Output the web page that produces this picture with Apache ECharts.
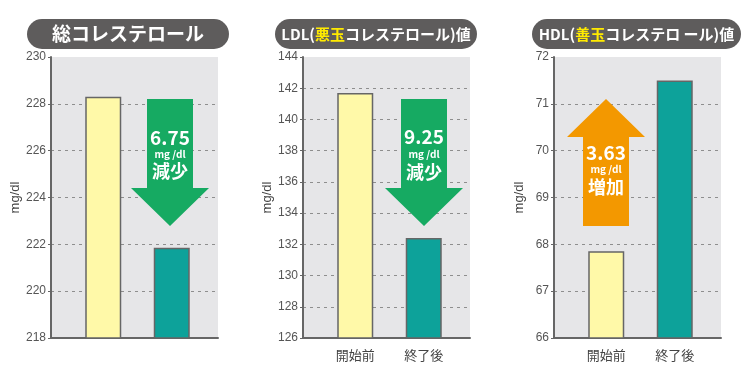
<!DOCTYPE html>
<html>
<head>
<meta charset="utf-8">
<script src="https://cdn.jsdelivr.net/npm/echarts@6/dist/echarts.min.js"></script>
<style>
html,body{margin:0;padding:0;background:#fff;}
#c{width:750px;height:380px;}
</style>
</head>
<body>
<div id="c"></div>
<script>
// ---- data ----
const categories = ['開始前', '終了後'];
const totalChol = [228.3, 221.85];
const ldlChol = [141.7, 132.4];
const hdlChol = [67.85, 71.5];
const axisMin = [218, 126, 66];
const axisMax = [230, 144, 72];
const axisStep = [2, 2, 1];
const changeValues = ['6.75', '9.25', '3.63'];
const changeWords = ['減少', '減少', '増加'];
const unitLabel = 'mg/dl';
const titles = ['総コレステロール', 'LDL({y|悪玉}コレステロール)値', 'HDL({y|善玉}コレステロ ール)値'];
const showCatLabels = [false, true, true];

const seriesValues = [totalChol, ldlChol, hdlChol];
const barColors = ['#FFF9A8', '#0DA29A'];
const FONT = '"Noto Sans CJK JP", "Noto Sans", sans-serif';
const gridLefts = [51, 303, 554];
const GW = 167, GTOP = 57, GH = 281;

const grid = [], xAxis = [], yAxis = [], series = [];
for (let i = 0; i < 3; i++) {
  const L = gridLefts[i];
  grid.push({left: L, top: GTOP, width: GW, height: GH, show: true, backgroundColor: '#E6E6E8', borderWidth: 0, containLabel: false, outerBoundsMode: 'none'});
  grid.push({left: L + 18, top: GTOP, width: 137, height: GH, containLabel: false, outerBoundsMode: 'none'});
  const nTicks = Math.round((axisMax[i] - axisMin[i]) / axisStep[i]) + 1;
  const splitColors = [];
  for (let k = 0; k < nTicks; k++) splitColors.push(k === 0 || k === nTicks - 1 ? 'rgba(0,0,0,0)' : '#8E8E8E');
  xAxis.push({type: 'value', gridIndex: 2 * i, min: 0, max: 1,
    axisLine: {show: true, onZero: false, lineStyle: {color: '#666', width: 2}},
    axisTick: {show: false}, axisLabel: {show: false}, splitLine: {show: false}});
  xAxis.push({type: 'category', gridIndex: 2 * i + 1, data: categories,
    axisLine: {show: false}, axisTick: {show: false},
    axisLabel: {show: showCatLabels[i], margin: 11, color: '#444', fontSize: 13, fontFamily: FONT}});
  yAxis.push({type: 'value', gridIndex: 2 * i, min: axisMin[i], max: axisMax[i], interval: axisStep[i],
    name: unitLabel, nameLocation: 'middle', nameGap: 28, nameRotate: 90,
    nameTextStyle: {color: '#444', fontSize: 13, fontFamily: 'Liberation Sans, Arial, sans-serif'},
    axisLine: {show: true, lineStyle: {color: '#666', width: 2}},
    axisTick: {show: true, length: 3, lineStyle: {color: '#666', width: 1}},
    axisLabel: {color: '#555', fontSize: 12, margin: 5, fontFamily: 'Liberation Sans, Arial, sans-serif'},
    splitLine: {show: true, lineStyle: {color: splitColors, width: 1, type: [3, 4]}}});
  yAxis.push({type: 'value', gridIndex: 2 * i + 1, min: axisMin[i], max: axisMax[i], show: false, splitLine: {show: false}});
  series.push({type: 'bar', xAxisIndex: 2 * i + 1, yAxisIndex: 2 * i + 1, data: seriesValues[i], barWidth: 36,
    itemStyle: {color: p => barColors[p.dataIndex], borderColor: '#666', borderWidth: 1.5},
    animation: false});
}

// ---- graphics (titles, arrows) ----
const graphic = [];
const pills = [[27, 202, 19], [275, 202, 15], [532, 209, 15]];
for (let i = 0; i < 3; i++) {
  const [px, pw, fs] = pills[i];
  graphic.push({type: 'rect', shape: {x: px, y: 19, width: pw, height: 30, r: 15}, style: {fill: '#5E5C5C'}, z: 10});
  graphic.push({type: 'text', x: px + pw / 2, y: 34, z: 11,
    style: {text: titles[i], fill: '#fff', font: 'bold ' + fs + 'px ' + FONT, align: 'center', verticalAlign: 'middle',
      rich: {y: {fill: '#FFEA00', fontSize: fs, fontWeight: 'bold', fontFamily: FONT}}}});
}
// arrows
function downArrow(cx, color) {
  return {type: 'polygon', z: 10, shape: {points: [[cx - 23, 99], [cx + 23, 99], [cx + 23, 188], [cx + 39, 188], [cx, 226], [cx - 39, 188], [cx - 23, 188]]}, style: {fill: color}};
}
function upArrow(cx, color) {
  return {type: 'polygon', z: 10, shape: {points: [[cx, 99], [cx + 39, 137], [cx + 23, 137], [cx + 23, 226], [cx - 23, 226], [cx - 23, 137], [cx - 39, 137]]}, style: {fill: color}};
}
graphic.push(downArrow(170, '#16AA62'));
graphic.push(downArrow(424, '#16AA62'));
graphic.push(upArrow(606, '#F39800'));
const textPos = [[170, 138, 154, 171], [424, 137, 154, 172], [606, 153, 169, 187]];
for (let i = 0; i < 3; i++) {
  const [cx, y1, y2, y3] = textPos[i];
  graphic.push({type: 'text', x: cx, y: y1, z: 11, style: {text: changeValues[i], fill: '#fff', font: 'bold 19px ' + FONT, align: 'center', verticalAlign: 'middle'}});
  graphic.push({type: 'text', x: cx, y: y2, z: 11, style: {text: 'mg /dl', fill: '#fff', font: 'bold 10px ' + FONT, align: 'center', verticalAlign: 'middle'}});
  graphic.push({type: 'text', x: cx, y: y3, z: 11, style: {text: changeWords[i], fill: '#fff', font: 'bold 18px ' + FONT, align: 'center', verticalAlign: 'middle'}});
}

const chart = echarts.init(document.getElementById('c'), null, {renderer: 'canvas'});
chart.setOption({
  backgroundColor: '#fff',
  animation: false,
  grid, xAxis, yAxis, series, graphic
});
</script>
</body>
</html>
